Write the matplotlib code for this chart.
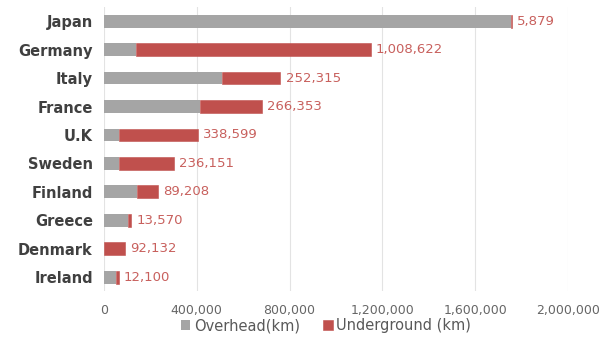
import matplotlib.pyplot as plt
import numpy as np
from matplotlib.ticker import FuncFormatter

countries = ['Japan', 'Germany', 'Italy', 'France', 'U.K', 'Sweden', 'Finland', 'Greece', 'Denmark', 'Ireland']
overhead = [1752000, 140000, 508000, 416000, 66000, 65000, 143000, 104000, 0, 52000]
underground = [5879, 1008622, 252315, 266353, 338599, 236151, 89208, 13570, 92132, 12100]

gray = '#A5A5A5'
red = '#C0504D'

fig = plt.figure(figsize=(6.11, 3.49), dpi=100)
ax = fig.add_axes([0.170, 0.165, 0.760, 0.815])

y = np.arange(len(countries))
ax.barh(y, overhead, height=0.45, color=gray, label='Overhead(km)', zorder=3)
ax.barh(y, underground, left=overhead, height=0.45, color=red, label='Underground (km)',
        edgecolor=red, linewidth=0.4, zorder=3)

for i in range(len(countries)):
    total = overhead[i] + underground[i]
    ax.text(total + 22000, y[i], '{:,}'.format(underground[i]), va='center', ha='left',
            color='#C8605D', fontsize=9.5)

ax.set_xlim(0, 2000000)
ax.set_ylim(len(countries) - 0.5, -0.5)
ax.set_xticks(np.arange(0, 2000001, 400000))
ax.xaxis.set_major_formatter(FuncFormatter(lambda v, p: '{:,}'.format(int(v))))
ax.set_yticks(y)
ax.set_yticklabels(countries, fontweight='bold', fontsize=10.5, color='#404040')
ax.tick_params(axis='x', colors='#666666', labelsize=9, length=0, pad=9)
ax.tick_params(axis='y', length=0, pad=8)
ax.grid(axis='x', color='#E3E3E3', linewidth=0.8, zorder=0)
for s in ax.spines.values():
    s.set_visible(False)

ax.legend(loc='center', bbox_to_anchor=(0.478, -0.12), ncol=2, frameon=False,
          fontsize=10.5, handlelength=0.65, handleheight=0.65, handletextpad=0.25,
          columnspacing=1.6, labelcolor='#595959')

fig.savefig('out.png', dpi=100)
